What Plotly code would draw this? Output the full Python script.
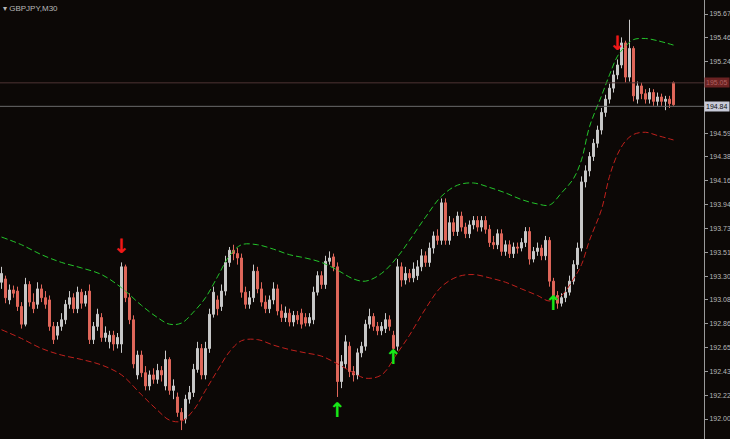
import plotly.graph_objects as go

# ---- data (GBPJPY M30) ----
opens = [193.24,193.27,193.08,193.17,193.16,193.02,192.86,193.22,193.06,193.04,
         193.18,193.10,193.08,192.84,192.76,192.84,192.90,193.04,193.10,193.00,
         193.15,193.05,193.16,192.72,192.84,192.92,192.74,192.70,192.76,192.68,
         192.68,193.38,193.10,192.90,192.40,192.58,192.42,192.30,192.40,192.36,
         192.44,192.30,192.54,192.26,192.20,192.06,192.00,192.18,192.24,192.45,
         192.64,192.40,192.64,192.95,193.08,193.02,193.16,193.42,193.53,193.50,
         193.46,193.15,193.04,193.10,193.34,193.18,193.06,193.00,193.08,193.18,
         192.98,192.92,192.96,192.88,192.94,192.96,192.92,192.87,192.90,193.15,
         193.30,193.22,193.43,193.47,193.38,192.34,192.50,192.66,192.43,192.40,
         192.60,192.66,192.86,192.93,192.84,192.80,192.82,192.90,192.76,192.66,
         193.38,193.26,193.32,193.28,193.30,193.38,193.48,193.42,193.55,193.66,
         193.62,193.96,193.62,193.78,193.70,193.84,193.74,193.68,193.76,193.80,
         193.74,193.80,193.72,193.60,193.58,193.68,193.52,193.58,193.50,193.56,
         193.55,193.60,193.70,193.45,193.52,193.55,193.48,193.62,193.25,193.12,
         193.05,193.10,193.15,193.25,193.40,193.55,194.15,194.25,194.38,194.50,
         194.62,194.78,194.90,195.00,195.12,195.21,195.41,195.10,195.36,194.90,
         195.02,194.95,194.90,194.96,194.88,194.92,194.88,194.90,195.05]
highs = [193.38,193.30,193.22,193.21,193.20,193.06,193.28,193.25,193.14,193.24,
         193.22,193.16,193.12,192.88,192.88,192.96,193.08,193.16,193.14,193.20,
         193.18,193.16,193.22,192.88,193.00,192.96,192.84,192.80,192.80,192.78,
         193.42,193.40,193.14,192.94,192.62,192.62,192.48,192.44,192.46,192.50,
         192.48,192.62,192.56,192.36,192.24,192.10,192.22,192.30,192.50,192.70,
         192.68,192.70,193.00,193.20,193.12,193.22,193.48,193.56,193.58,193.55,
         193.50,193.20,193.16,193.40,193.38,193.24,193.12,193.12,193.24,193.22,
         193.04,193.02,193.00,192.98,192.98,193.00,192.96,192.96,193.20,193.34,
         193.34,193.48,193.52,193.50,193.42,192.58,192.76,192.70,192.48,192.64,
         192.70,192.90,193.00,192.96,192.88,192.88,192.96,192.94,192.80,193.45,
         193.42,193.38,193.36,193.42,193.44,193.54,193.52,193.60,193.70,193.72,
         194.00,194.00,193.84,193.82,193.88,193.88,193.78,193.80,193.84,193.84,
         193.84,193.84,193.76,193.66,193.72,193.72,193.62,193.62,193.60,193.60,
         193.64,193.74,193.74,193.56,193.60,193.58,193.66,193.65,193.28,193.16,
         193.14,193.20,193.30,193.44,193.60,194.20,194.30,194.42,194.54,194.66,
         194.82,194.94,195.04,195.16,195.26,195.46,195.43,195.62,195.38,195.06,
         195.05,194.99,195.00,194.99,194.96,194.95,194.93,194.93,195.06]
lows = [193.18,193.05,193.04,193.10,192.98,192.82,192.84,193.02,192.96,193.00,
        193.06,193.00,192.80,192.68,192.72,192.80,192.86,193.00,192.96,192.96,
        193.00,193.02,192.68,192.68,192.80,192.70,192.70,192.64,192.62,192.64,
        192.60,193.06,192.86,192.46,192.36,192.38,192.26,192.26,192.32,192.32,
        192.34,192.26,192.22,192.18,192.02,191.90,191.96,192.14,192.20,192.42,
        192.36,192.36,192.60,192.92,192.94,192.98,193.12,193.38,193.44,193.40,
        193.10,193.00,193.00,193.06,193.14,193.02,192.96,192.96,193.04,192.94,
        192.88,192.88,192.84,192.84,192.86,192.82,192.84,192.84,192.86,193.12,
        193.18,193.18,193.40,193.34,192.20,192.28,192.46,192.38,192.34,192.36,
        192.56,192.62,192.82,192.80,192.76,192.76,192.78,192.80,192.62,192.62,
        193.20,193.22,193.24,193.24,193.26,193.34,193.38,193.38,193.50,193.58,
        193.58,193.58,193.58,193.66,193.66,193.70,193.64,193.64,193.72,193.70,
        193.70,193.68,193.56,193.54,193.54,193.48,193.48,193.46,193.46,193.50,
        193.52,193.56,193.40,193.42,193.48,193.44,193.44,193.20,193.08,193.00,
        193.02,193.06,193.12,193.22,193.36,193.52,194.10,194.20,194.34,194.46,
        194.58,194.74,194.86,194.96,195.08,195.18,195.05,195.06,194.88,194.86,
        194.90,194.86,194.86,194.84,194.84,194.84,194.80,194.82,194.84]
closes = [193.32,193.10,193.17,193.14,193.02,192.86,193.22,193.06,193.00,193.18,
          193.10,193.04,192.84,192.72,192.84,192.90,193.04,193.10,193.00,193.15,
          193.05,193.12,192.72,192.84,192.95,192.74,192.78,192.76,192.68,192.74,
          193.38,193.10,192.90,192.50,192.58,192.42,192.30,192.40,192.36,192.44,
          192.40,192.54,192.26,192.30,192.06,191.99,192.18,192.24,192.45,192.64,
          192.40,192.64,192.95,193.15,193.00,193.16,193.42,193.53,193.50,193.46,
          193.15,193.04,193.10,193.34,193.18,193.06,193.00,193.08,193.18,192.98,
          192.92,192.96,192.88,192.94,192.90,192.86,192.87,192.92,193.15,193.30,
          193.22,193.43,193.46,193.38,192.34,192.52,192.70,192.43,192.40,192.60,
          192.66,192.86,192.93,192.84,192.80,192.84,192.90,192.84,192.64,193.38,
          193.26,193.32,193.28,193.36,193.38,193.48,193.42,193.55,193.66,193.62,
          193.96,193.62,193.78,193.70,193.84,193.74,193.68,193.76,193.80,193.74,
          193.80,193.72,193.60,193.58,193.68,193.52,193.58,193.50,193.56,193.55,
          193.60,193.70,193.45,193.52,193.55,193.48,193.62,193.25,193.12,193.05,
          193.10,193.15,193.25,193.40,193.55,194.15,194.25,194.38,194.50,194.62,
          194.78,194.90,195.00,195.12,195.21,195.41,195.10,195.36,194.93,195.02,
          194.95,194.90,194.96,194.88,194.92,194.88,194.90,194.86,194.85]
bars = list(range(len(closes)))

band_bars = [0,5,10,15,20,25,30,35,39,42,45,48,51,54,57,60,64,68,72,76,80,84,88,91,95,
             99,102,106,110,114,118,122,126,130,134,137,140,143,145,147,150,152,154,156,
             158,161,164,168]
upper_band = [193.65,193.58,193.49,193.42,193.37,193.31,193.19,193.03,192.92,192.86,
              192.87,192.97,193.10,193.29,193.48,193.58,193.58,193.54,193.49,193.46,
              193.42,193.35,193.27,193.25,193.32,193.47,193.62,193.83,194.02,194.12,
              194.14,194.10,194.05,193.99,193.95,193.94,194.05,194.18,194.35,194.65,
              194.93,195.12,195.29,195.38,195.44,195.45,195.43,195.39]
lower_band = [192.81,192.73,192.64,192.58,192.54,192.49,192.40,192.22,192.08,191.99,
              191.98,192.08,192.26,192.44,192.61,192.71,192.72,192.67,192.63,192.60,
              192.57,192.50,192.42,192.37,192.40,192.60,192.76,193.00,193.20,193.29,
              193.31,193.28,193.24,193.18,193.12,193.07,193.12,193.27,193.40,193.62,
              193.90,194.20,194.40,194.52,194.58,194.60,194.57,194.53]

sell_bars = [30, 154]
sell_prices = [193.55, 195.39]
buy_bars = [84, 98, 138]
buy_prices = [192.06, 192.54, 193.03]

ask_price = 195.048
bid_price = 194.835
# tick labels (194.808 and 195.024 are hidden under the price boxes)
tick_vals = [192.000,192.216,192.432,192.648,192.864,193.080,193.296,193.512,193.728,
             193.944,194.160,194.376,194.592,195.240,195.456,195.672]
tick_text = ["%.2f" % v for v in tick_vals]

BG = "#0c0806"
BULL = "#c9c9c9"
BEAR = "#e0675b"

fig = go.Figure()
fig.add_trace(go.Scatter(x=band_bars, y=upper_band, mode="lines",
                         line=dict(color="#23c42a", width=1, dash="6px,3px", shape="spline"),
                         hoverinfo="skip"))
fig.add_trace(go.Scatter(x=band_bars, y=lower_band, mode="lines",
                         line=dict(color="#c0201c", width=1, dash="6px,3px", shape="spline"),
                         hoverinfo="skip"))
fig.add_trace(go.Candlestick(x=bars, open=opens, high=highs, low=lows, close=closes,
                             increasing=dict(line=dict(color=BULL, width=1), fillcolor=BULL),
                             decreasing=dict(line=dict(color=BEAR, width=1), fillcolor=BEAR),
                             whiskerwidth=0, hoverinfo="skip"))
fig.add_trace(go.Scatter(x=sell_bars, y=sell_prices, mode="text", text=["↓"] * len(sell_bars),
                         textfont=dict(color="#f01818", size=20, family="DejaVu Sans", weight="bold"),
                         textposition="middle center", hoverinfo="skip"))
fig.add_trace(go.Scatter(x=buy_bars, y=buy_prices, mode="text", text=["↑"] * len(buy_bars),
                         textfont=dict(color="#18e818", size=20, family="DejaVu Sans", weight="bold"),
                         textposition="middle center", hoverinfo="skip"))

fig.add_hline(y=ask_price, line=dict(color="#4e3434", width=1))
fig.add_hline(y=bid_price, line=dict(color="#6a6a6a", width=1))

fig.add_annotation(x=1, xref="paper", y=ask_price, yref="y", xanchor="left", yanchor="middle",
                   text="%.2f" % ask_price, showarrow=False, bgcolor="#6b2222",
                   font=dict(color="#b06060", size=7, family="Liberation Sans"), borderpad=1, xshift=0)
fig.add_annotation(x=1, xref="paper", y=bid_price, yref="y", xanchor="left", yanchor="middle",
                   text="%.2f" % bid_price, showarrow=False, bgcolor="#c8cad8",
                   font=dict(color="#101010", size=7, family="Liberation Sans"), borderpad=1, xshift=0)
fig.add_annotation(x=0, xref="paper", y=1, yref="paper", xanchor="left", yanchor="top",
                   text="▾ GBPJPY,M30", showarrow=False, xshift=1, yshift=-2,
                   font=dict(color="#b8b8b8", size=8, family="Liberation Sans"))

fig.update_layout(
    width=730, height=439, margin=dict(l=0, r=26, t=0, b=0, autoexpand=False),
    paper_bgcolor=BG, plot_bgcolor=BG, showlegend=False, hovermode=False,
    xaxis=dict(range=[-0.375, 175.625], visible=False, rangeslider=dict(visible=False),
               showgrid=False, zeroline=False, automargin=False),
    yaxis=dict(range=[191.819, 195.799], side="right", showgrid=False, zeroline=False,
               automargin=False,
               tickvals=tick_vals, ticktext=tick_text, ticks="outside", ticklen=3,
               tickcolor="#9a9a9a", showline=True, linecolor="#9a9a9a", linewidth=1,
               tickfont=dict(color="#b8b8b8", size=7, family="Liberation Sans")),
)
fig.write_html("out.html", config={"displayModeBar": False},
               post_script="document.body.style.margin='0';document.body.style.background='%s';" % BG)
